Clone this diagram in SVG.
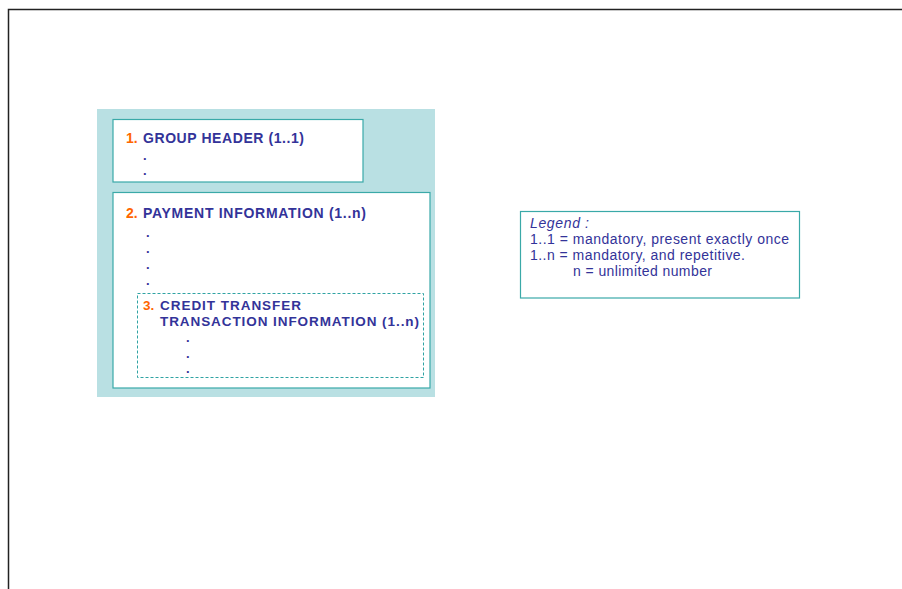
<svg xmlns="http://www.w3.org/2000/svg" width="902" height="589" viewBox="0 0 902 589">
<style>
.box{fill:#ffffff;stroke:#3aa9a8;stroke-width:1.2}
.t{font-family:"Liberation Sans",Arial,sans-serif;font-size:14px;font-weight:bold;fill:#333399}
.n{font-family:"Liberation Sans",Arial,sans-serif;font-size:14px;font-weight:bold;fill:#ff6600}
.s{font-size:13.5px}
.l{font-family:"Liberation Sans",Arial,sans-serif;font-size:14px;fill:#333399}
.d{font-family:"Liberation Sans",Arial,sans-serif;font-size:13px;font-weight:bold;fill:#333399}
</style>
<rect width="902" height="589" fill="#ffffff"/>
<g id="frame">
<path d="M8.5,589 V9.5 H902" fill="none" stroke="#222222" stroke-width="1.5"/>
</g>
<g id="container">
<rect x="97" y="109" width="338" height="288" fill="#b9e0e3"/>
</g>
<g id="group-header">
<rect class="box" x="113" y="119.5" width="250" height="62.5"/>
<text class="n" x="126" y="143">1.</text>
<text class="t" x="143" y="143" textLength="161" lengthAdjust="spacing">GROUP HEADER (1..1)</text>
<text class="d" x="143" y="160">.</text>
<text class="d" x="143" y="175">.</text>
</g>
<g id="payment-information">
<rect class="box" x="113" y="192.5" width="317" height="195.5"/>
<text class="n" x="126" y="218">2.</text>
<text class="t" x="143" y="218" textLength="223" lengthAdjust="spacing">PAYMENT INFORMATION (1..n)</text>
<text class="d" x="146" y="237">.</text>
<text class="d" x="146" y="253">.</text>
<text class="d" x="146" y="269">.</text>
<text class="d" x="146" y="285">.</text>
</g>
<g id="credit-transfer">
<rect x="137.5" y="293.5" width="286" height="84" fill="none" stroke="#2fa3a3" stroke-width="1" stroke-dasharray="3,2"/>
<text class="n s" x="143" y="309.5">3.</text>
<text class="t s" x="160" y="309.5" textLength="141" lengthAdjust="spacing">CREDIT TRANSFER</text>
<text class="t s" x="160" y="325.5" textLength="259" lengthAdjust="spacing">TRANSACTION INFORMATION (1..n)</text>
<text class="d" x="186" y="342">.</text>
<text class="d" x="186" y="358">.</text>
<text class="d" x="186" y="373">.</text>
</g>
<g id="legend">
<rect x="520.5" y="211.5" width="279" height="86.5" fill="#ffffff" stroke="#3aa9a8" stroke-width="1.2"/>
<text class="l" x="530" y="228" font-style="italic" textLength="59" lengthAdjust="spacing">Legend :</text>
<text class="l" x="530" y="244" textLength="259" lengthAdjust="spacing">1..1 = mandatory, present exactly once</text>
<text class="l" x="530" y="260" textLength="215" lengthAdjust="spacing">1..n = mandatory, and repetitive.</text>
<text class="l" x="573" y="276" textLength="139" lengthAdjust="spacing">n = unlimited number</text>
</g>
<g id="connectors"></g>
</svg>
